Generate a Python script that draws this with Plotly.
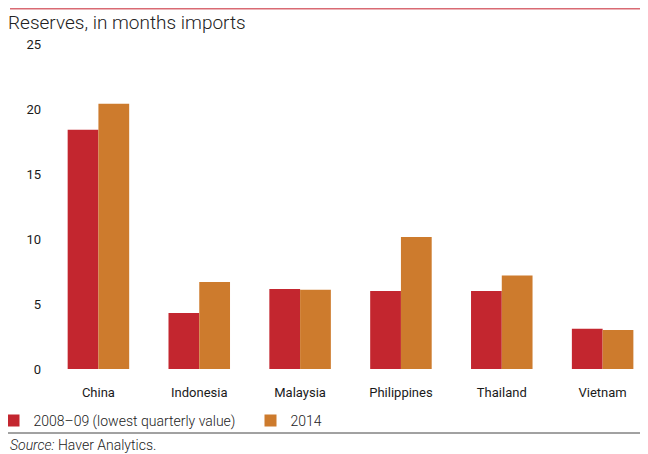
import plotly.graph_objects as go

countries = ["China", "Indonesia", "Malaysia", "Philippines", "Thailand", "Vietnam"]
low_2008_09 = [18.4, 4.3, 6.15, 6.0, 6.0, 3.1]
val_2014 = [20.4, 6.7, 6.1, 10.15, 7.2, 3.0]
y_ticks = [0, 5, 10, 15, 20, 25]

RED = "#c3262f"
ORANGE = "#cd7b2d"

# the page body has an 8px margin, so the figure is 8px smaller than the window
OFF = 8
W, H = 648 - OFF, 454 - OFF
L, R, T, B = 40, 0, 36, 85
PH = H - T - B
PW = W - L - R


def px_x(x):
    # page pixel -> paper fraction
    return (x - OFF - L) / PW


def px_y(y):
    return (H - B - (y - OFF)) / PH


fig = go.Figure()
fig.add_trace(go.Bar(x=countries, y=low_2008_09, name="2008\u201309 (lowest quarterly value)",
                     marker=dict(color=RED, line=dict(width=0))))
fig.add_trace(go.Bar(x=countries, y=val_2014, name="2014",
                     marker=dict(color=ORANGE, line=dict(width=0))))

fig.update_layout(
    width=W, height=H,
    margin=dict(l=L, r=R, t=T, b=B, autoexpand=False),
    paper_bgcolor="white", plot_bgcolor="white",
    barmode="group", bargap=0.39, bargroupgap=0,
    font=dict(family="Roboto", color="#222"),
    title=dict(text="Reserves, in months imports", x=0, xref="container",
               y=1 - (22 - OFF) / H, yref="container", xanchor="left", yanchor="middle",
               font=dict(family="Roboto", size=19, weight=300, color="#222")),
    xaxis=dict(range=[-0.5, 5.45], showgrid=False, showline=False, zeroline=False,
               ticks="", ticklabelstandoff=14,
               tickfont=dict(family="Roboto", size=13, color="#1a1a1a")),
    yaxis=dict(range=[0, 25], tickvals=y_ticks, showgrid=False, showline=False,
               zeroline=False, ticks="", ticklabelstandoff=6,
               tickfont=dict(family="Roboto", size=13, color="#1a1a1a")),
    legend=dict(orientation="h", x=px_x(-6.5), xanchor="left", y=px_y(421), yanchor="middle",
                entrywidth=212, entrywidthmode="pixels", itemwidth=30,
                font=dict(family="Roboto", size=14, weight=300, color="#222"),
                bgcolor="rgba(0,0,0,0)", tracegroupgap=0),
    showlegend=True,
)

fig.add_shape(type="line", xref="paper", yref="paper", x0=px_x(10), x1=1,
              y0=px_y(OFF + 0.75), y1=px_y(OFF + 0.75), line=dict(color="#d96a73", width=1.5))
fig.add_shape(type="line", xref="paper", yref="paper", x0=px_x(8), x1=1,
              y0=px_y(433), y1=px_y(433), line=dict(color="#444", width=1))

fig.add_annotation(text="<i>Source:</i> Haver Analytics.", xref="paper", yref="paper",
                   x=px_x(8), y=px_y(445), xanchor="left", yanchor="middle",
                   showarrow=False, font=dict(family="Roboto", size=14, weight=300, color="#222"))

fig.write_html("out.html")
